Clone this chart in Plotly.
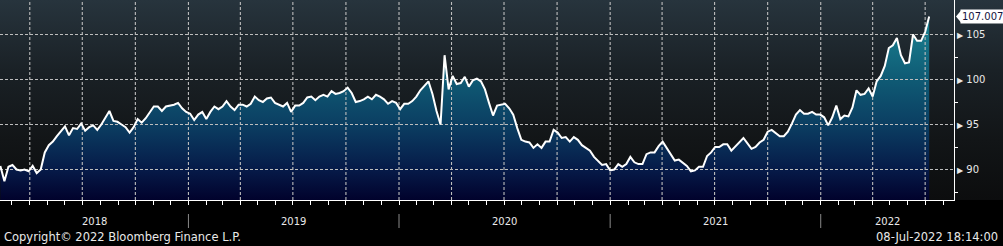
import base64
import pandas as pd
import plotly.graph_objects as go

# ---- data (weekly closes) ----
start_date = "2018-02-09"
values = [
    90.4, 88.7, 90.3, 90.5, 90.0, 89.9, 90.0, 89.8, 90.4, 89.6,
    90.0, 91.9, 92.7, 93.1, 93.7, 94.2, 94.8, 93.8, 94.6, 94.5,
    95.1, 94.3, 94.7, 94.9, 94.4, 95.0, 95.7, 96.5, 95.4, 95.3,
    95.0, 94.7, 94.1, 94.7, 95.6, 95.2, 95.7, 96.4, 97.0, 97.0,
    96.5, 97.0, 97.1, 97.2, 97.4, 96.8, 96.4, 96.2, 95.5, 96.1,
    96.4, 95.6, 96.4, 97.0, 96.7, 97.0, 97.6, 97.0, 96.6, 97.2,
    97.2, 97.0,
    97.3, 98.1, 97.7, 97.5, 97.9, 98.0, 97.4, 97.2, 97.0, 97.4,
    96.4, 97.1, 97.1, 97.4, 98.0, 98.1, 97.7, 98.1, 98.3, 98.1,
    98.7, 98.4, 98.5, 98.7, 99.1, 98.5, 97.5, 97.6, 97.8, 98.1,
    97.8, 98.3, 98.1, 97.8, 97.3, 97.6, 97.4, 96.7, 97.3, 97.3,
    97.6, 98.1, 98.8, 99.3, 99.8, 98.4, 96.5, 95.0, 102.7, 98.9,
    100.4, 99.5, 99.6, 100.3, 99.2, 99.9, 100.1, 99.8, 98.9, 97.4,
    96.0, 97.1,
    97.2, 97.3, 96.8, 96.1, 94.6, 93.3, 93.1, 93.0, 92.4, 92.8,
    92.4, 93.1, 93.1, 94.4, 94.1, 93.5, 93.6, 93.1, 93.6, 93.3,
    92.7, 92.4, 92.1, 91.4, 90.9, 90.5, 90.6, 89.9, 90.0, 90.6,
    90.3, 90.6, 91.4, 90.8, 90.6, 90.6, 91.7, 91.9, 91.9, 92.6,
    93.1, 92.4, 91.6, 91.0, 91.1, 90.7, 90.4, 89.8, 89.9, 90.3,
    90.3, 91.5, 91.9, 92.5, 92.5, 92.8, 92.8, 92.1, 92.6, 93.0,
    93.5, 92.9,
    92.3, 92.5, 93.0, 93.3, 94.2, 94.4, 94.0, 93.7, 93.7, 94.2,
    95.1, 96.1, 96.6, 96.2, 96.2, 96.4, 96.1, 96.1, 95.8, 94.9,
    95.8, 97.1, 95.6, 96.0, 95.9, 96.9, 98.8, 98.3, 98.4, 99.0,
    98.1, 99.8, 100.4, 101.5, 103.5, 103.8, 104.6, 102.7, 101.8, 101.9,
    105.0, 104.3, 104.3, 105.3, 107.007,
]
dates = pd.date_range(start=start_date, periods=len(values), freq="7D").strftime("%Y-%m-%d").tolist()

y_ticks = [90, 95, 100, 105]
y_minor = [87.5, 92.5, 97.5, 102.5]
years = [2018, 2019, 2020, 2021, 2022]
x_range = ["2018-02-08 09:00", "2022-08-20"]
y_range = [86.6111, 108.8333]
last_label = "107.007"
footer_left = "Copyright\u00a9 2022 Bloomberg Finance L.P."
footer_right = "08-Jul-2022 18:14:00"

# ---- figure geometry ----
W, H = 1003, 246
ML, MR, MT, MB = 0, 49, 0, 46
PW = W - ML - MR
FONT = "DejaVu Sans"
TXT = "#e9e9e9"

fig = go.Figure()

# gradient area under the line
fig.add_trace(go.Scatter(
    x=dates, y=values, mode="none", fill="tozeroy",
    fillgradient=dict(
        type="vertical", start=y_range[0], stop=y_range[1],
        colorscale=[[0, "#01022c"], [0.15, "#061a48"], [0.375, "#0b3e62"],
                    [0.6, "#0f5a74"], [0.825, "#17788a"], [1, "#1d8a99"]],
    ),
    hoverinfo="skip", showlegend=False,
))

# gridlines drawn above the fill (as in the reference)
xr0, xr1 = pd.Timestamp(x_range[0]), pd.Timestamp(x_range[1])
quarters = [q for q in pd.date_range("2018-01-01", xr1, freq="QS") if xr0 < q < xr1]
for q in quarters:
    qs = q.strftime("%Y-%m-%d")
    fig.add_trace(go.Scatter(
        x=[qs, qs], y=y_range, mode="lines",
        line=dict(color="#bdbdbd", width=1.1, dash="3px,2px"),
        hoverinfo="skip", showlegend=False,
    ))
for v in y_ticks:
    fig.add_trace(go.Scatter(
        x=x_range, y=[v, v], mode="lines",
        line=dict(color="#bdbdbd", width=1.1, dash="3px,2px"),
        hoverinfo="skip", showlegend=False,
    ))

# the price line
fig.add_trace(go.Scatter(
    x=dates, y=values, mode="lines",
    line=dict(color="#ffffff", width=2),
    showlegend=False,
))

# background gradient (whole upper band incl. the right label area)
svg = (
    "<svg xmlns='http://www.w3.org/2000/svg' width='100' height='100' preserveAspectRatio='none'>"
    "<defs><linearGradient id='g' x1='0' y1='0' x2='0' y2='1'>"
    "<stop offset='0' stop-color='#27343d'/>"
    "<stop offset='0.35' stop-color='#1a2126'/>"
    "<stop offset='0.7' stop-color='#121517'/>"
    "<stop offset='1' stop-color='#0c0d0e'/>"
    "</linearGradient></defs><rect width='100' height='100' fill='url(#g)'/></svg>"
)
src = "data:image/svg+xml;base64," + base64.b64encode(svg.encode()).decode()
fig.add_layout_image(dict(
    source=src, xref="paper", yref="paper", x=0, y=1,
    sizex=W / PW, sizey=1, xanchor="left", yanchor="top",
    sizing="stretch", layer="below",
))

# year labels centred in their visible span, plus separators
annotations = []
shapes = []
for yr in years:
    a = max(pd.Timestamp(f"{yr}-01-01"), xr0)
    b = min(pd.Timestamp(f"{yr + 1}-01-01"), xr1)
    mid = (a + (b - a) / 2).strftime("%Y-%m-%d %H:%M")
    annotations.append(dict(
        x=mid, y=-0.105, xref="x", yref="paper", text=str(yr),
        showarrow=False, xanchor="center", yanchor="middle",
        font=dict(family=FONT, size=10, color=TXT),
    ))
    if yr > years[0]:
        shapes.append(dict(
            type="line", xref="x", yref="paper",
            x0=f"{yr}-01-01", x1=f"{yr}-01-01",
            y0=-0.07, y1=-0.14, line=dict(color="#8a8a8a", width=1),
        ))

# last value tag
annotations.append(dict(
    x=1, y=values[-1], xref="paper", yref="y", text=last_label,
    showarrow=False, xanchor="left", yanchor="middle", xshift=6,
    bgcolor="#ffffff", borderpad=1,
    font=dict(family=FONT, size=10, color="#14143c"),
))
shapes.append(dict(
    type="path", xref="paper", yref="y", xanchor=1, yanchor=values[-1],
    xsizemode="pixel", ysizemode="pixel",
    path="M 2,0 L 7,6 L 7,-6 Z", fillcolor="#ffffff", line=dict(width=0),
))

# footer
annotations.append(dict(
    x=0, y=-0.185, xref="paper", yref="paper", text=footer_left,
    showarrow=False, xanchor="left", yanchor="middle", xshift=2,
    font=dict(family=FONT, size=11.5, color=TXT),
))
annotations.append(dict(
    x=W / PW, y=-0.185, xref="paper", yref="paper", text=footer_right,
    showarrow=False, xanchor="right", yanchor="middle", xshift=-3,
    font=dict(family=FONT, size=11.5, color=TXT),
))

fig.update_layout(
    width=W, height=H,
    margin=dict(l=ML, r=MR, t=MT, b=MB, pad=0),
    paper_bgcolor="#000000", plot_bgcolor="rgba(0,0,0,0)",
    showlegend=False, hovermode=False,
    annotations=annotations, shapes=shapes,
    xaxis=dict(
        type="date", range=x_range, showgrid=False, zeroline=False,
        tick0="2018-01-01", dtick="M3", ticks="outside", ticklen=4,
        tickcolor="#ffffff", tickwidth=1, showticklabels=False,
        showline=True, linecolor="#ffffff", linewidth=1,
        minor=dict(dtick="M1", tick0="2018-01-01", ticks="outside",
                   ticklen=4, tickcolor="#ffffff", tickwidth=1, showgrid=False),
    ),
    yaxis=dict(
        range=y_range, side="right", showgrid=False, zeroline=False,
        tickvals=y_ticks,
        ticktext=["<span style='font-size:8px'>\u25b6</span> " + str(v) for v in y_ticks],
        ticks="", showline=True, linecolor="#ffffff", linewidth=1,
        tickfont=dict(family=FONT, size=10, color=TXT),
        minor=dict(tickvals=y_minor, ticks="outside", ticklen=3,
                   tickcolor="#ffffff", tickwidth=1, showgrid=False),
    ),
)

fig.write_html("out.html")
